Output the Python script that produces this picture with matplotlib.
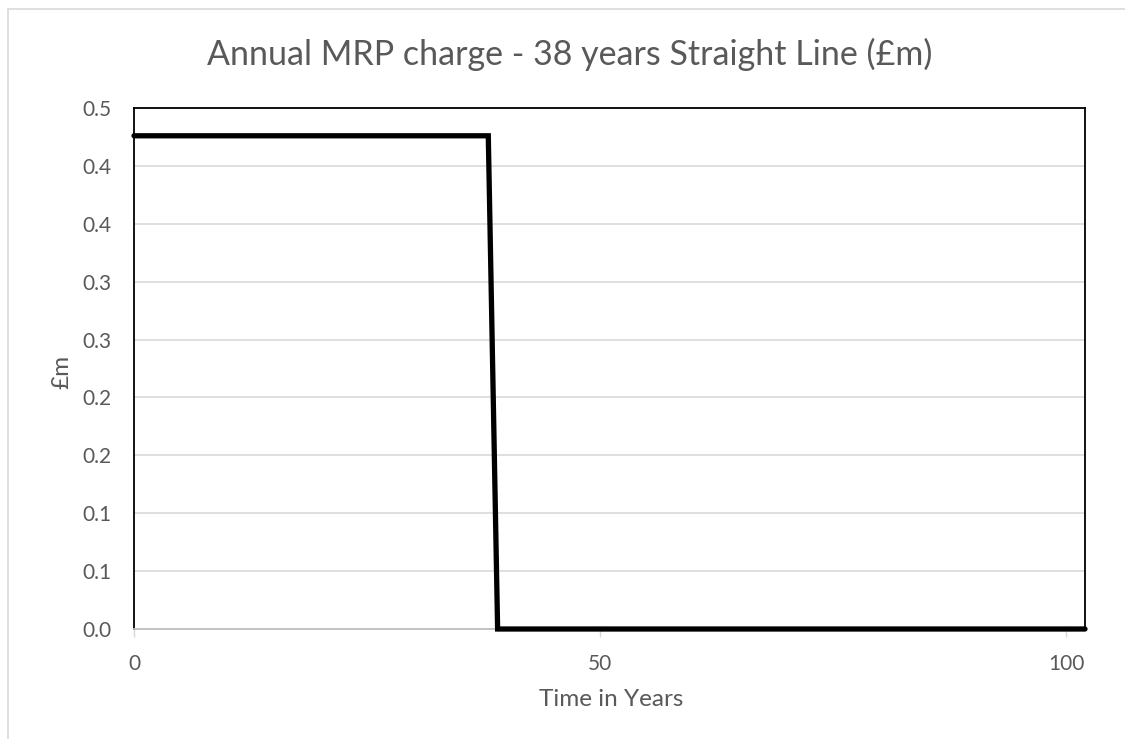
import matplotlib.pyplot as plt
from matplotlib.patches import Rectangle

# data
years = [0, 38, 39, 102]
charge = [0.426, 0.426, 0.0, 0.0]

y_ticks = [0.0, 0.05, 0.10, 0.15, 0.20, 0.25, 0.30, 0.35, 0.40, 0.45]
y_labels = ['0.0', '0.1', '0.1', '0.2', '0.2', '0.3', '0.3', '0.4', '0.4', '0.5']
x_ticks = [0, 50, 100]

title = 'Annual MRP charge - 38 years Straight Line (£m)'
x_title = 'Time in Years'
y_title = '£m'

TEXT = '#595959'
GRID = '#d9d9d9'

plt.rcParams['font.family'] = ['Lato', 'DejaVu Sans']

W, H = 1125, 739
fig = plt.figure(figsize=(W / 100, H / 100), dpi=100)

# outer chart frame (only its top and left edges fall inside the image)
fig.patches.append(Rectangle((8 / W, -0.05), 1.1, 1.05 - 9 / H, transform=fig.transFigure,
                             fill=False, edgecolor=GRID, linewidth=1.2))

ax = fig.add_axes([134 / W, 1 - 629 / H, (1085 - 134) / W, (629 - 108) / H])

ax.plot(years, charge, color='black', linewidth=3.8, solid_joinstyle='miter', solid_capstyle='round',
        zorder=3, clip_on=False)

ax.set_xlim(0, 102)
ax.set_ylim(0, 0.45)
ax.set_yticks(y_ticks)
ax.set_yticklabels(y_labels)
ax.set_xticks(x_ticks)
ax.yaxis.grid(True, color=GRID, linewidth=1.2)
ax.set_axisbelow(True)

ax.tick_params(axis='y', length=0, pad=16, labelsize=15, labelcolor=TEXT)
ax.tick_params(axis='x', length=6, width=1, color=GRID, pad=12, labelsize=15, labelcolor=TEXT)

for side in ['left', 'top', 'right']:
    ax.spines[side].set_color('black')
    ax.spines[side].set_linewidth(1.3)
ax.spines['bottom'].set_color('#bfbfbf')
ax.spines['bottom'].set_linewidth(1.3)

fig.text(570 / W, 1 - 65 / H, title, ha='center', va='baseline', fontsize=24.5, color=TEXT)
fig.text(611 / W, 1 - 700 / H, x_title, ha='center', va='center', fontsize=17.5, color=TEXT)
fig.text(62 / W, 1 - 372 / H, y_title, ha='center', va='center', rotation=90, fontsize=17.5, color=TEXT)

fig.savefig('out.png', dpi=100)
